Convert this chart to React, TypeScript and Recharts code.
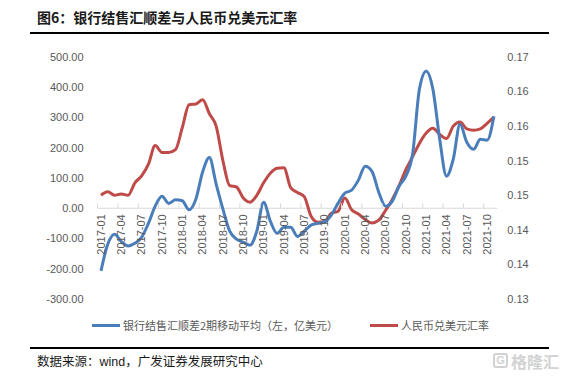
import React from "react";
import { LineChart, Line, XAxis, YAxis, ReferenceLine } from "recharts";

const months = [
  "2017-01","2017-02","2017-03","2017-04","2017-05","2017-06","2017-07","2017-08","2017-09","2017-10","2017-11","2017-12",
  "2018-01","2018-02","2018-03","2018-04","2018-05","2018-06","2018-07","2018-08","2018-09","2018-10","2018-11","2018-12",
  "2019-01","2019-02","2019-03","2019-04","2019-05","2019-06","2019-07","2019-08","2019-09","2019-10","2019-11","2019-12",
  "2020-01","2020-02","2020-03","2020-04","2020-05","2020-06","2020-07","2020-08","2020-09","2020-10","2020-11","2020-12",
  "2021-01","2021-02","2021-03","2021-04","2021-05","2021-06","2021-07","2021-08","2021-09","2021-10","2021-11",
];

// 银行结售汇顺差2期移动平均（左，亿美元）
const surplusMA2 = [
  -207, -119, -86, -110, -125, -116, -96, -50, 7, 40, 16, 28,
  25, -5, 30, 120, 168, 80, -3, -76, -102, -112, -122, -76,
  20, -43, -83, -63, -63, -93, -76, -56, -50, -45, -23, 17,
  50, 60, 93, 139, 122, 53, 7, 23, 73, 106, 179, 393,
  453, 393, 228, 106, 162, 278, 218, 195, 228, 225, 304,
];

// 人民币兑美元汇率
const cnyUsd = [
  0.1450, 0.1455, 0.1450, 0.1452, 0.1450, 0.1468, 0.1478, 0.1495, 0.1522, 0.1512, 0.1512, 0.1516,
  0.1548, 0.1581, 0.1582, 0.1588, 0.1568, 0.1550, 0.1500, 0.1464, 0.1462, 0.1446, 0.1440, 0.1450,
  0.1468, 0.1482, 0.1489, 0.1490, 0.1461, 0.1454, 0.1448, 0.1420, 0.1411, 0.1412, 0.1424, 0.1427,
  0.1446, 0.1429, 0.1423, 0.1415, 0.1410, 0.1414, 0.1428, 0.1444, 0.1464, 0.1487, 0.1506, 0.1525,
  0.1540, 0.1547, 0.1538, 0.1532, 0.1550, 0.1556, 0.1546, 0.1544, 0.1546, 0.1554, 0.1563,
];

const leftTicks = [-300, -200, -100, 0, 100, 200, 300, 400, 500];
const rightTicks = [0.13, 0.135, 0.14, 0.145, 0.15, 0.155, 0.16, 0.165];

const seriesNames = ["银行结售汇顺差2期移动平均（左，亿美元）", "人民币兑美元汇率"];

const data = months.map((m, i) => ({ month: m, surplus: surplusMA2[i], rate: cnyUsd[i] }));

const W = 565;
const H = 378;
const TOP = 57;
const PLOT_H = 242;
const LEFT_M = 37.6;
const AXIS_W = 60;
const RIGHT_M = 7.7;
const PAD = 3.4;
const PLOT_W = W - LEFT_M - RIGHT_M - 2 * AXIS_W;
const STEP = (PLOT_W - 2 * PAD) / (months.length - 1);
const L_MIN = leftTicks[0];
const L_MAX = leftTicks[leftTicks.length - 1];
const ZERO_Y = TOP + (L_MAX / (L_MAX - L_MIN)) * PLOT_H;

const BLUE = "#4A7EBB";
const RED = "#BE4B48";
const AXIS_TXT = "#595959";
const FONT = "'Liberation Sans', Arial, sans-serif";
const CJK = "'Noto Sans CJK SC', sans-serif";

const XTick = (props: any) => {
  const { x, payload } = props;
  const ty = ZERO_Y + 6;
  return (
    <g>
      <line x1={x - STEP / 2} x2={x - STEP / 2} y1={ZERO_Y - 5} y2={ZERO_Y} stroke="#d9d9d9" strokeWidth={1} />
      <text
        x={x}
        y={ty}
        transform={`rotate(-90 ${x} ${ty})`}
        textAnchor="end"
        dy="0.35em"
        fontSize={11}
        fontFamily={FONT}
        fill={AXIS_TXT}
      >
        {payload.value}
      </text>
    </g>
  );
};

const fmtRight = (v: number) => (Math.round(v * 100 + 1e-6) / 100).toFixed(2);

export default function App() {
  return (
    <div style={{ position: "absolute", left: 0, top: 0, width: W, height: H, background: "#fff", overflow: "hidden" }}>
      <div
        style={{
          position: "absolute",
          left: 37,
          top: 7,
          fontFamily: CJK,
          fontWeight: 700,
          fontSize: 14,
          color: "#1a1a1a",
          whiteSpace: "nowrap",
          lineHeight: "20px",
        }}
      >
        图6：银行结售汇顺差与人民币兑美元汇率
      </div>
      <div style={{ position: "absolute", left: 30, top: 32, width: 519, height: 2, background: "#000" }} />

      <LineChart
        width={W}
        height={H}
        data={data}
        margin={{ top: TOP, right: RIGHT_M, bottom: 49, left: LEFT_M }}
      >
        <XAxis
          dataKey="month"
          xAxisId={0}
          interval={2}
          height={30}
          axisLine={false}
          tickLine={false}
          tick={<XTick />}
          padding={{ left: PAD, right: PAD }}
        />
        <YAxis
          yAxisId="left"
          orientation="left"
          width={AXIS_W}
          domain={[L_MIN, L_MAX]}
          ticks={leftTicks}
          interval={0}
          axisLine={false}
          tickLine={false}
          tickMargin={8}
          tickFormatter={(v: number) => v.toFixed(2)}
          tick={{ fontSize: 11, fontFamily: FONT, fill: AXIS_TXT }}
        />
        <YAxis
          yAxisId="right"
          orientation="right"
          width={AXIS_W}
          domain={[rightTicks[0], rightTicks[rightTicks.length - 1]]}
          ticks={rightTicks}
          interval={0}
          axisLine={false}
          tickLine={false}
          tickMargin={4}
          tickFormatter={fmtRight}
          tick={{ fontSize: 11, fontFamily: FONT, fill: AXIS_TXT }}
        />
        <ReferenceLine y={0} yAxisId="left" stroke="#d9d9d9" strokeWidth={1} />
        <Line
          yAxisId="right"
          type="monotone"
          dataKey="rate"
          stroke={RED}
          strokeWidth={3}
          dot={false}
          isAnimationActive={false}
        />
        <Line
          yAxisId="left"
          type="monotone"
          dataKey="surplus"
          stroke={BLUE}
          strokeWidth={3}
          dot={false}
          isAnimationActive={false}
        />
      </LineChart>

      <div style={{ position: "absolute", left: 92, top: 323.5, width: 28, height: 3.5, background: BLUE }} />
      <div
        style={{
          position: "absolute",
          left: 123,
          top: 317,
          fontFamily: CJK,
          fontSize: 11,
          color: AXIS_TXT,
          whiteSpace: "nowrap",
          lineHeight: "16px",
        }}
      >
        {seriesNames[0]}
      </div>
      <div style={{ position: "absolute", left: 370, top: 323.5, width: 28, height: 3.5, background: RED }} />
      <div
        style={{
          position: "absolute",
          left: 401,
          top: 317,
          fontFamily: CJK,
          fontSize: 11,
          color: AXIS_TXT,
          whiteSpace: "nowrap",
          lineHeight: "16px",
        }}
      >
        {seriesNames[1]}
      </div>

      <div style={{ position: "absolute", left: 30, top: 347, width: 519, height: 2, background: "#000" }} />
      <div
        style={{
          position: "absolute",
          left: 37,
          top: 352,
          fontFamily: CJK,
          fontSize: 12.5,
          color: "#1a1a1a",
          whiteSpace: "nowrap",
          lineHeight: "18px",
        }}
      >
        <span>数据来源：</span>
        <span style={{ fontFamily: FONT }}>wind</span>
        <span>，广发证券发展研究中心</span>
      </div>

      <div
        style={{
          position: "absolute",
          left: 493,
          top: 353,
          width: 15,
          height: 15,
          border: "2px solid #d2d2d2",
          borderRadius: 3,
          boxSizing: "border-box",
          fontFamily: FONT,
          fontWeight: 700,
          fontSize: 11,
          lineHeight: "11px",
          textAlign: "center",
          color: "#d2d2d2",
        }}
      >
        G
      </div>
      <div
        style={{
          position: "absolute",
          left: 511,
          top: 350,
          fontFamily: CJK,
          fontWeight: 700,
          fontSize: 16,
          color: "#d2d2d2",
          whiteSpace: "nowrap",
          lineHeight: "22px",
        }}
      >
        格隆汇
      </div>
    </div>
  );
}
